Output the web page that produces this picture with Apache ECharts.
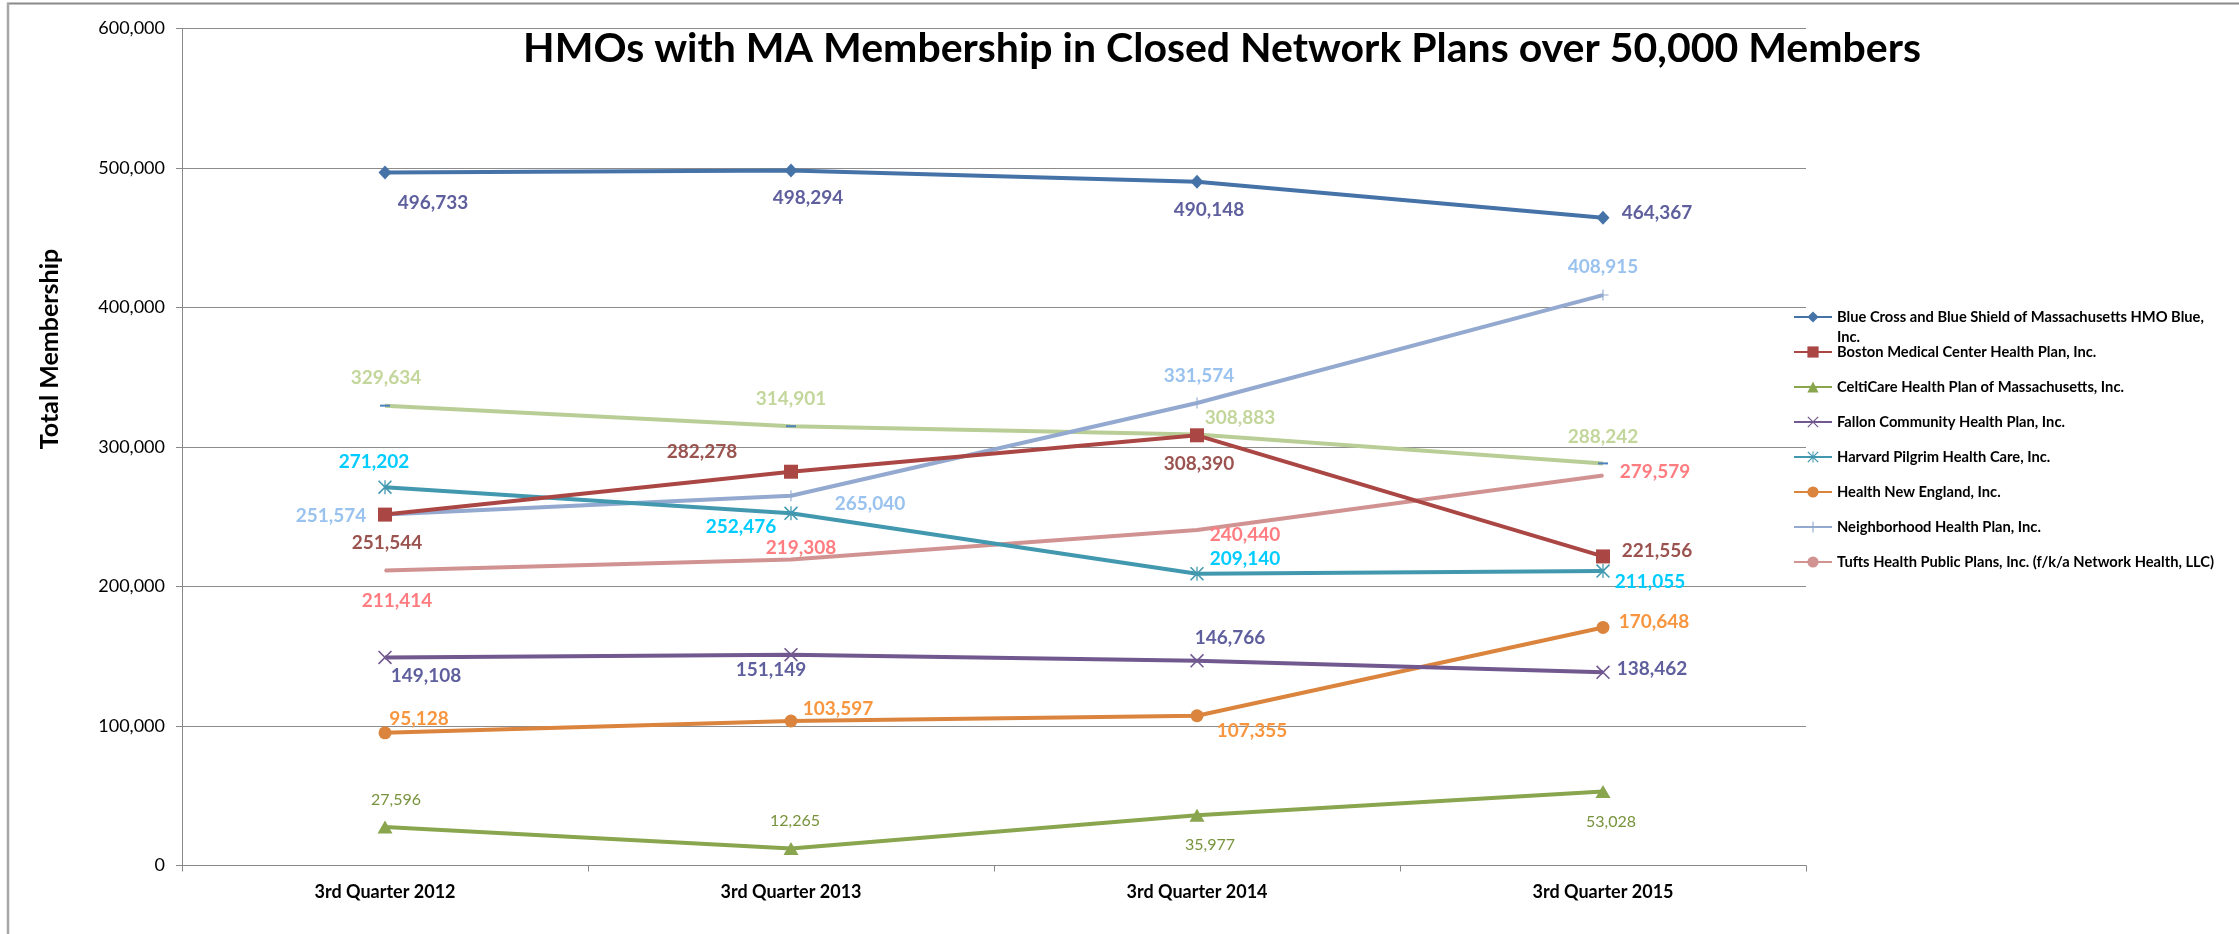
<!DOCTYPE html>
<html>
<head>
<meta charset="utf-8">
<script src="https://cdn.jsdelivr.net/npm/echarts@6/dist/echarts.min.js"></script>
<style>
html,body{margin:0;padding:0;background:#fff;}
#chart{width:2239px;height:934px;}
</style>
</head>
<body>
<div id="chart"></div>
<script>
// ---------- DATA ----------
const categories = ['3rd Quarter 2012', '3rd Quarter 2013', '3rd Quarter 2014', '3rd Quarter 2015'];
const seriesNames = [
  'Blue Cross and Blue Shield of Massachusetts HMO Blue, Inc.',
  'Boston Medical Center Health Plan, Inc.',
  'CeltiCare Health Plan of Massachusetts, Inc.',
  'Fallon Community Health Plan, Inc.',
  'Harvard Pilgrim Health Care, Inc.',
  'Health New England, Inc.',
  'Neighborhood Health Plan, Inc.',
  'Tufts Health Public Plans, Inc. (f/k/a Network Health, LLC)',
  'Series 9'
];
const blueCross    = [496733, 498294, 490148, 464367];
const bostonMed    = [251544, 282278, 308390, 221556];
const celtiCare    = [27596, 12265, 35977, 53028];
const fallon       = [149108, 151149, 146766, 138462];
const harvard      = [271202, 252476, 209140, 211055];
const healthNE     = [95128, 103597, 107355, 170648];
const neighborhood = [251574, 265040, 331574, 408915];
const tufts        = [211414, 219308, 240440, 279579];
const series9      = [329634, 314901, 308883, 288242];
const yTicks = [0, 100000, 200000, 300000, 400000, 500000, 600000];
const titleText = 'HMOs with MA Membership in Closed Network Plans over 50,000 Members';
const yAxisTitle = 'Total Membership';

// ---------- STYLE / LAYOUT ----------
const FONT = 'Lato';
const lineColors = ['#4572A7', '#AA4643', '#89A54E', '#71588F', '#4198AF', '#DB843D', '#93A9CF', '#D19392', '#B9CD96'];
const labelColors = ['#5F5F9E', '#9B5350', '#77933C', '#5F5F9E', '#00CCFF', '#F8963F', '#99C2EE', '#FF7C80', '#C3D69B'];
const X_PATH = 'path://M0,0.8L0.8,0L10,9.2L9.2,10Z M9.2,0L10,0.8L0.8,10L0,9.2Z';
const AST_PATH = 'path://M0,0.8L0.8,0L10,9.2L9.2,10Z M9.2,0L10,0.8L0.8,10L0,9.2Z M4.55,0L5.45,0L5.45,10L4.55,10Z';
const PLUS_PATH = 'path://M4.5,0L5.5,0L5.5,10L4.5,10Z M0,4.5L10,4.5L10,5.5L0,5.5Z';
const symbols = ['diamond', 'rect', 'triangle', X_PATH, AST_PATH, 'circle', PLUS_PATH, 'circle', 'rect'];
const symbolSizes = [[13, 14], 14, [15, 13], 14, 14, 13, 11, 2, [10, 2]];
const symbolColors = [null, null, null, null, null, null, null, null, '#4F81BD'];
// label centre offsets relative to each point (pixels)
const labelOffsets = [
  [[48, 30], [17, 27], [12, 28], [54, -5]],
  [[2, 28], [-89, -20], [2, 29], [54, -6]],
  [[11, -27], [4, -28], [13, 30], [8, 30]],
  [[41, 18], [-20, 15], [33, -23], [49, -3]],
  [[-11, -25], [-50, 14], [48, -15], [47, 11]],
  [[34, -14], [47, -12], [55, 15], [51, -6]],
  [[-54, 1], [79, 8], [2, -27], [0, -28]],
  [[12, 30], [10, -12], [48, 5], [52, -4]],
  [[1, -28], [0, -27], [43, -17], [0, -27]]
];
const allValues = [blueCross, bostonMed, celtiCare, fallon, harvard, healthNE, neighborhood, tufts, series9];
const fmt = v => Number(v).toLocaleString('en-US');

const series = allValues.map((vals, si) => ({
  name: seriesNames[si],
  type: 'line',
  data: vals.map((v, i) => ({ value: v, label: { offset: labelOffsets[si][i] } })),
  symbol: symbols[si],
  symbolSize: symbolSizes[si],
  showAllSymbol: true,
  z: 10 - si,
  lineStyle: { color: lineColors[si], width: 4 },
  itemStyle: { color: symbolColors[si] || lineColors[si] },
  emphasis: { disabled: true },
  animation: false,
  label: {
    show: true,
    position: 'inside',
    align: 'center',
    verticalAlign: 'middle',
    formatter: p => fmt(p.value),
    color: labelColors[si],
    fontFamily: FONT,
    fontWeight: si === 2 ? 'normal' : 'bold',
    fontSize: si === 2 ? 16 : 19
  }
}));

// legend rows (centre y of each entry's first line)
const legendRowY = [317, 352, 387, 422, 457, 492, 527, 562];
const legends = legendRowY.map((cy, i) => {
  const first = i === 0;
  return {
    data: [seriesNames[i]],
    orient: 'vertical',
    left: 1793,
    top: first ? cy - 30 : cy - 8,
    padding: 0,
    itemWidth: 38,
    itemHeight: 14,
    itemGap: 0,
    selectedMode: false,
    formatter: first ? ' \nBlue Cross and Blue Shield of Massachusetts HMO Blue,\nInc.' : '{name}',
    textStyle: {
      fontFamily: FONT, fontWeight: 'bold', fontSize: 14.7, color: '#000',
      lineHeight: first ? 20 : 16
    }
  };
});

const option = {
  backgroundColor: '#fff',
  animation: false,
  title: {
    text: titleText,
    left: 1217,
    top: 23,
    textAlign: 'center',
    textStyle: { fontFamily: FONT, fontWeight: 'bold', fontSize: 41, color: '#000' }
  },
  legend: legends,
  grid: { left: 182, top: 28.5, width: 1624, height: 837, containLabel: false },
  xAxis: {
    type: 'category',
    data: categories,
    boundaryGap: true,
    axisLine: { lineStyle: { color: '#888', width: 1 } },
    axisTick: { show: true, length: 6, lineStyle: { color: '#888' } },
    axisLabel: { margin: 18, fontFamily: FONT, fontWeight: 'bold', fontSize: 18, color: '#000' },
    splitLine: { show: false }
  },
  yAxis: {
    type: 'value',
    min: yTicks[0],
    max: yTicks[yTicks.length - 1],
    interval: yTicks[1] - yTicks[0],
    axisLine: { show: true, lineStyle: { color: '#888', width: 1 } },
    axisTick: { show: true, length: 6, lineStyle: { color: '#888' } },
    axisLabel: { margin: 17, fontFamily: FONT, fontSize: 18, color: '#000', formatter: v => fmt(v) },
    splitLine: { show: true, lineStyle: { color: '#8C8C8C', width: 1 } }
  },
  graphic: [
    { type: 'line', shape: { x1: 7, y1: 3.5, x2: 2239, y2: 3.5 }, style: { stroke: '#8A8A8A', lineWidth: 2 }, silent: true },
    { type: 'line', shape: { x1: 8, y1: 3, x2: 8, y2: 934 }, style: { stroke: '#A6A6A6', lineWidth: 2.5 }, silent: true },
    { type: 'text', x: 50, y: 349, rotation: Math.PI / 2,
      style: { text: yAxisTitle, fontFamily: FONT, fontWeight: 'bold', fontSize: 25, fill: '#000', align: 'center', verticalAlign: 'middle' }, silent: true }
  ],
  series: series
};

const chart = echarts.init(document.getElementById('chart'), null, { renderer: 'canvas' });
chart.setOption(option);
</script>
</body>
</html>
